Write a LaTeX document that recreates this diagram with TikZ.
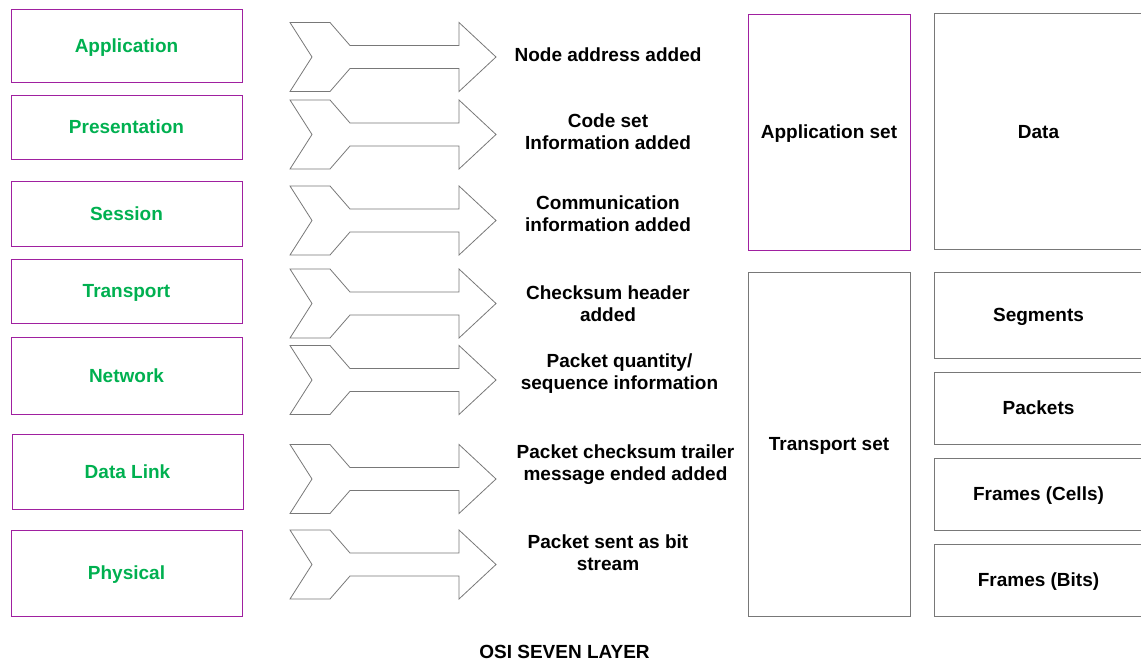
\documentclass[tikz,border=0pt]{standalone}
\usepackage{fontspec}
\setmainfont{Liberation Sans}
\definecolor{layerpurple}{RGB}{160,32,160}
\definecolor{layergreen}{RGB}{0,176,80}
\definecolor{edgegrey}{RGB}{120,120,120}
\tikzset{
  every node/.style={font=\fontsize{19}{22}\selectfont\bfseries},
  capline/.style={text height=13.6pt, text depth=0pt},
  layerbox/.style={capline, draw=layerpurple, line width=0.9pt, inner sep=0pt, outer sep=0pt,
    minimum width=231pt, text=layergreen},
  unitbox/.style={capline, draw=edgegrey, line width=0.9pt, inner sep=0pt, outer sep=0pt,
    minimum width=209pt, text=black},
  setbox/.style={capline, draw=edgegrey, line width=0.9pt, inner sep=0pt, outer sep=0pt,
    minimum width=162pt, text=black},
  steplabel/.style={align=center, text=black},
  fatarrow/.pic={
    \draw[edgegrey, line width=0.8pt, line join=miter]
      (0,-34.5) -- (40,-34.5) -- (60,-11.5) -- (169,-11.5) -- (169,-34.5)
      -- (206,0) -- (169,34.5) -- (169,11.5) -- (60,11.5) -- (40,34.5)
      -- (0,34.5) -- (22,0) -- cycle;
  }
}
\begin{document}
\begin{tikzpicture}[x=1pt,y=-1pt]
\useasboundingbox (0,0) rectangle (1141,663);
\clip (0,0) rectangle (1141,663);

% OSI layers
\node[layerbox, minimum height=73pt] (app)  at (126.5,45.5)  {Application};
\node[layerbox, minimum height=64pt] (pres) at (126.5,127)   {Presentation};
\node[layerbox, minimum height=65pt] (sess) at (126.5,213.5) {Session};
\node[layerbox, minimum height=64pt] (tran) at (126.5,291)   {Transport};
\node[layerbox, minimum height=77pt] (netw) at (126.5,375.5) {Network};
\node[layerbox, minimum height=75pt] (dlnk) at (127.5,471.5) {Data Link};
\node[layerbox, minimum height=86pt] (phys) at (126.5,573)   {Physical};

% block arrows
\pic (ar1) at (290,57)    {fatarrow};
\pic (ar2) at (290,134.5) {fatarrow};
\pic (ar3) at (290,220.5) {fatarrow};
\pic (ar4) at (290,303.5) {fatarrow};
\pic (ar5) at (290,380)   {fatarrow};
\pic (ar6) at (290,479)   {fatarrow};
\pic (ar7) at (290,564.5) {fatarrow};

% what each layer adds
\node[steplabel] (l1) at (608,55)    {Node address added};
\node[steplabel] (l2) at (608,132)   {Code set\\Information added};
\node[steplabel] (l3) at (608,214)   {Communication\\information added};
\node[steplabel] (l4) at (608,304)   {Checksum header\\added};
\node[steplabel] (l5) at (619.5,374) {Packet quantity/\\sequence information};
\node[steplabel] (l6) at (625.5,465) {Packet checksum trailer\\message ended added};
\node[steplabel] (l7) at (608,552.5) {Packet sent as bit\\stream};

% layer sets
\node[setbox, draw=layerpurple, minimum height=236pt] (aset) at (829,132) {Application set};
\node[setbox, minimum height=344pt] (tset) at (829,444) {Transport set};

% data units
\node[unitbox, minimum height=236pt] (data)  at (1038.5,131.5) {Data};
\node[unitbox, minimum height=86pt]  (segs)  at (1038.5,315) {Segments};
\node[unitbox, minimum height=72pt]  (pkts)  at (1038.5,408) {Packets};
\node[unitbox, minimum height=72pt]  (cells) at (1038.5,494) {Frames (Cells)};
\node[unitbox, minimum height=72pt]  (bits)  at (1038.5,580) {Frames (Bits)};

% caption
\node[text=black, inner sep=0pt] (title) at (564.5,652) {OSI SEVEN LAYER};
\end{tikzpicture}
\end{document}
